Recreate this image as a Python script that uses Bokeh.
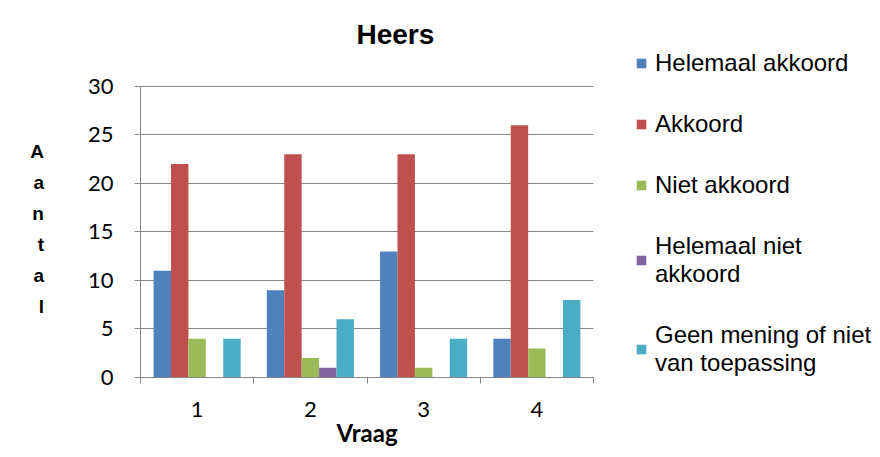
from bokeh.plotting import figure
from bokeh.layouts import row
from bokeh.models import (ColumnDataSource, Range1d, LinearAxis, FixedTicker,
                          Legend, LegendItem)
from bokeh.transform import dodge
from bokeh.embed import file_html
from bokeh.resources import INLINE

# ---- data ----
questions = [1, 2, 3, 4]
question_labels = ["1", "2", "3", "4"]
series_names = ["Helemaal akkoord", "Akkoord", "Niet akkoord",
                "Helemaal niet\nakkoord", "Geen mening of niet\nvan toepassing"]
helemaal_akkoord = [11, 9, 13, 4]
akkoord = [22, 23, 23, 26]
niet_akkoord = [4, 2, 1, 3]
helemaal_niet_akkoord = [0, 1, 0, 0]
geen_mening = [4, 6, 4, 8]
y_ticks = [0, 5, 10, 15, 20, 25, 30]
y_max = 30

colors = ["#4F81BD", "#C0504D", "#9BBB59", "#8064A2", "#4BACC6"]
series_values = [helemaal_akkoord, akkoord, niet_akkoord,
                 helemaal_niet_akkoord, geen_mening]

src = ColumnDataSource(dict(
    q=questions,
    s0=helemaal_akkoord, s1=akkoord, s2=niet_akkoord,
    s3=helemaal_niet_akkoord, s4=geen_mening,
))

GRAY = "#868686"
H = 457

# plot frame extends above the 30-line so the legend beside it has room
p = figure(width=608, height=H, output_backend="svg", toolbar_location=None,
           x_range=Range1d(0.5, 4.5), y_range=Range1d(0, y_max * 328.5 / 291.5),
           x_axis_location=None, min_border_left=140, min_border_right=15,
           min_border_top=49, min_border_bottom=80)
p.outline_line_color = None
p.background_fill_color = "white"
p.border_fill_color = "white"

# bars
n = len(series_values)
bw = 1 / 6.5
renderers = []
for i in range(n):
    off = (i - (n - 1) / 2) * bw
    r = p.vbar(x=dodge("q", off, range=p.x_range), top="s%d" % i, width=bw,
               source=src, fill_color=colors[i], line_color=None)
    renderers.append(r)

# y axis
ya = p.yaxis[0]
ya.bounds = (0, y_max)
ya.ticker = FixedTicker(ticks=y_ticks)
ya.axis_line_color = GRAY
ya.major_tick_line_color = GRAY
ya.major_tick_out = 6
ya.major_tick_in = 0
ya.minor_tick_line_color = None
ya.major_label_text_font = "Lato"
ya.major_label_text_font_size = "22px"
ya.major_label_text_color = "black"
ya.major_label_standoff = 21
ya.axis_label = "\nA\na\nn\nt\na\nl"
ya.axis_label_orientation = "horizontal"
ya.axis_label_text_font = "Liberation Sans"
ya.axis_label_text_font_style = "bold"
ya.axis_label_text_font_size = "19px"
ya.axis_label_text_color = "black"
ya.axis_label_text_line_height = 1.47
ya.axis_label_standoff = 41

p.ygrid.ticker = FixedTicker(ticks=y_ticks)
p.ygrid.grid_line_color = GRAY
p.xgrid.grid_line_color = None

# x axis: tick marks at category boundaries
bounds = [0.5, 1.5, 2.5, 3.5, 4.5]
xa_ticks = LinearAxis(ticker=FixedTicker(ticks=bounds))
xa_ticks.axis_line_color = GRAY
xa_ticks.major_tick_line_color = GRAY
xa_ticks.major_tick_out = 6
xa_ticks.major_tick_in = 0
xa_ticks.minor_tick_line_color = None
xa_ticks.major_label_overrides = {b: "" for b in bounds}
xa_ticks.major_label_text_font_size = "1px"
xa_ticks.major_label_standoff = 0
p.add_layout(xa_ticks, "below")

# x axis: category labels
xa_lab = LinearAxis(ticker=FixedTicker(ticks=questions))
xa_lab.major_label_overrides = {q: l for q, l in zip(questions, question_labels)}
xa_lab.axis_line_color = None
xa_lab.major_tick_line_color = None
xa_lab.major_tick_out = 0
xa_lab.minor_tick_line_color = None
xa_lab.major_label_text_font = "Lato"
xa_lab.major_label_text_font_size = "22px"
xa_lab.major_label_text_color = "black"
xa_lab.major_label_standoff = 18
xa_lab.axis_label = "Vraag"
xa_lab.axis_label_text_font = "Lato"
xa_lab.axis_label_text_font_style = "bold"
xa_lab.axis_label_text_font_size = "24px"
xa_lab.axis_label_text_color = "black"
xa_lab.axis_label_standoff = -2
p.add_layout(xa_lab, "below")

# title
p.title.text = "Heers"
p.title.text_font = "Liberation Sans"
p.title.text_font_style = "bold"
p.title.text_font_size = "28px"
p.title.text_color = "black"
p.title.align = "left"
p.title.offset = 216
p.title.standoff = 0

# legend in its own panel
lg = figure(width=272, height=H, output_backend="svg", toolbar_location=None,
            x_range=Range1d(0, 1), y_range=Range1d(0, 1),
            min_border=0, min_border_left=27, x_axis_location=None, y_axis_location=None)
lg.outline_line_color = None
lg.grid.grid_line_color = None
leg_renderers = []
for i in range(n):
    r = lg.vbar(x=[-10], top=[0], width=0.1, fill_color=colors[i], line_color=None)
    leg_renderers.append(r)
items = [LegendItem(label=series_names[i], renderers=[leg_renderers[i]]) for i in range(n)]
legend = Legend(items=items, location="top_left")
legend.label_text_font = "Liberation Sans"
legend.label_text_font_size = "24px"
legend.label_text_color = "black"
legend.glyph_width = 12
legend.glyph_height = 12
legend.label_standoff = 8
legend.spacing = 33
legend.padding = 0
legend.margin = 0
legend.border_line_color = None
legend.background_fill_alpha = 0
lg.add_layout(legend)

layout = row(p, lg)
open("out.html", "w").write(file_html(layout, INLINE))
